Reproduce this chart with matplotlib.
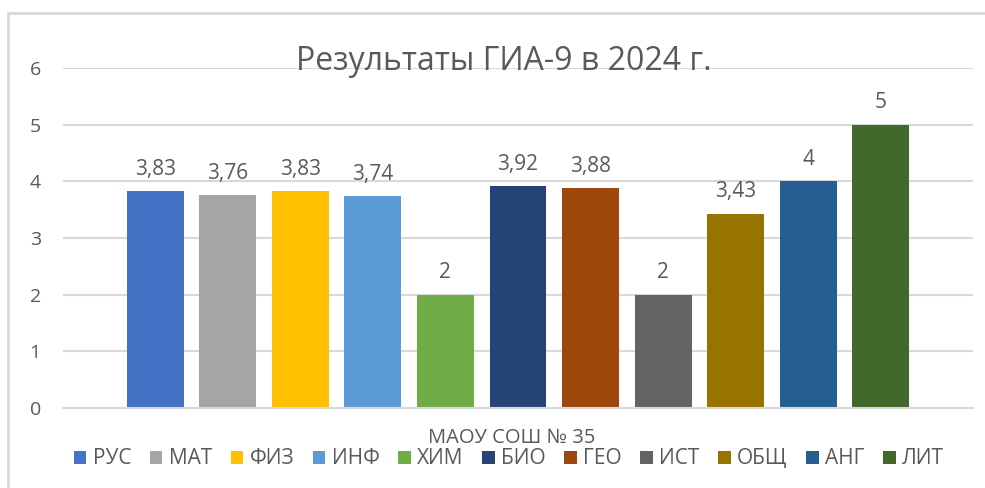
import matplotlib
matplotlib.use("Agg")
import matplotlib.pyplot as plt
from matplotlib.patches import Rectangle

# subjects, in legend order
subjects = ["РУС", "МАТ", "ФИЗ", "ИНФ", "ХИМ", "БИО", "ГЕО", "ИСТ", "ОБЩ", "АНГ", "ЛИТ"]
scores = [3.83, 3.76, 3.83, 3.74, 2, 3.92, 3.88, 2, 3.43, 4, 5]
colors = ["#4472C4", "#A5A5A5", "#FFC000", "#5B9BD5", "#70AD47", "#264478",
          "#9E480E", "#636363", "#997300", "#255E91", "#43682B"]
yticks = [0, 1, 2, 3, 4, 5, 6]
title = "Результаты ГИА-9 в 2024 г."
xlabel = "МАОУ СОШ № 35"

plt.rcParams['font.family'] = ['Open Sans', 'DejaVu Sans']
txt = "#595959"
grid = "#D9D9D9"

W, H = 985, 488
fig = plt.figure(figsize=(W / 100, H / 100), dpi=100)
ax = fig.add_axes([63 / W, (H - 408) / H, (973 - 63) / W, (408 - 68) / H])

# chart frame (runs off the right/bottom edge like the screenshot)
fig.patches.append(Rectangle((8 / W, -0.1), 1.2, (H - 13) / H + 0.1,
                             transform=fig.transFigure, fill=False,
                             edgecolor=grid, linewidth=2))

def fmt(v):
    s = f"{v:g}"
    return s.replace(".", ",")

for i, (name, val, c) in enumerate(zip(subjects, scores, colors)):
    ax.bar(i, val, width=0.785, color=c, label=name, zorder=3)
    ax.text(i, val + 0.2, fmt(val), ha="center", va="bottom",
            fontsize=15, color=txt)

ax.set_xlim(-1.27, 11.27)
ax.set_ylim(0, 6)
ax.set_yticks(yticks)
ax.set_yticklabels([str(t) for t in yticks], fontsize=14, color=txt)
ax.tick_params(axis="y", length=0, pad=16)
ax.set_xticks([])
ax.grid(axis="y", color=grid, linewidth=1.5, zorder=0)
for s in ["top", "right", "left"]:
    ax.spines[s].set_visible(False)
ax.spines["bottom"].set_color(grid)
ax.spines["bottom"].set_linewidth(1.5)
ax.spines["bottom"].set_zorder(4)

fig.text(504 / W, (H - 70) / H, title, ha="center", va="baseline",
         fontsize=23, color=txt, zorder=5)
fig.text(512 / W, (H - 438) / H, xlabel, ha="center", va="center",
         fontsize=14.5, color=txt)

fig.legend(loc="center", bbox_to_anchor=(509 / W, (H - 459) / H), ncol=11,
           frameon=False, fontsize=15, labelcolor=txt, handlelength=0.6,
           handleheight=0.6, handletextpad=0.3, columnspacing=0.9)

fig.savefig("out.png", dpi=100)
